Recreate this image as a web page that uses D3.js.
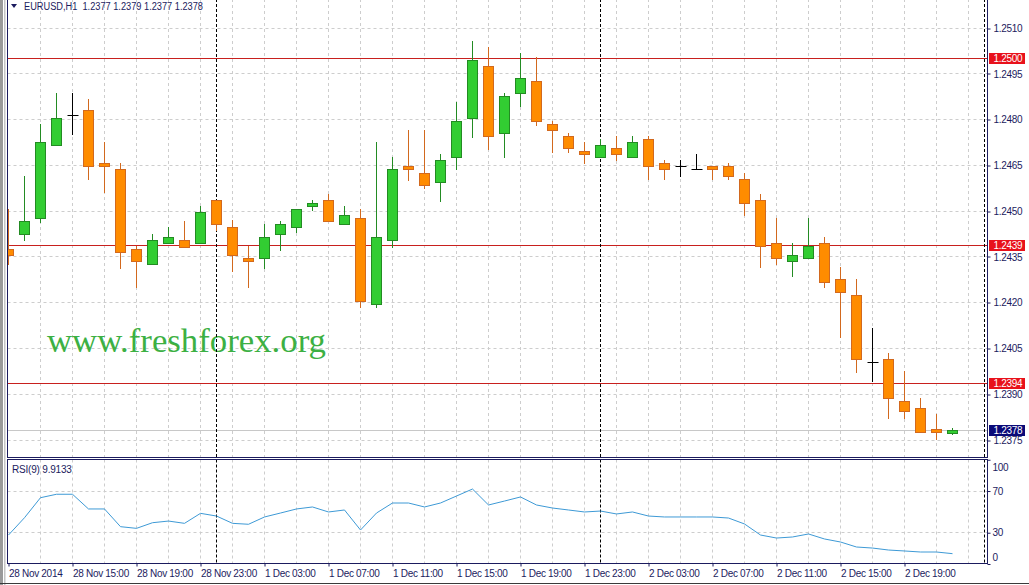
<!DOCTYPE html>
<html><head><meta charset="utf-8">
<script src="https://cdn.jsdelivr.net/npm/d3@7"></script>
<style>body{margin:0;background:#fff;overflow:hidden} svg{display:block}</style>
</head><body>
<svg id="c" width="1029" height="585"></svg>
<script>
// ---------------- data ----------------
const titleText = "EURUSD,H1  1.2377 1.2379 1.2377 1.2378";
const openP  = [1.24375,1.24424,1.24477,1.24716,1.24813,1.24829,1.24658,1.24638,1.24375,1.24326,
                1.24395,1.24405,1.24395,1.24536,1.24447,1.24346,1.24344,1.24424,1.24447,1.24516,
                1.24536,1.24457,1.24477,1.24195,1.24403,1.24647,1.24624,1.24595,1.24677,1.24805,
                1.24975,1.24756,1.24887,1.24926,1.24785,1.24746,1.24697,1.24677,1.24706,1.24677,
                1.24736,1.24657,1.24647,1.24638,1.24647,1.24647,1.24605,1.24536,1.24395,1.24336,
                1.24346,1.24395,1.24277,1.24224,1.24005,1.24015,1.23875,1.23854,1.23785,1.2377];
const highP  = [1.24506,1.24616,1.24786,1.24887,1.24887,1.24868,1.24728,1.24657,1.24386,1.24424,
                1.24449,1.24468,1.24517,1.24536,1.24470,1.24386,1.24458,1.24468,1.24506,1.24537,
                1.24557,1.24517,1.24506,1.24726,1.24678,1.24766,1.24766,1.24687,1.24858,1.25057,
                1.25039,1.24887,1.25019,1.25005,1.24795,1.24756,1.24726,1.24736,1.24747,1.24747,
                1.24747,1.24667,1.24667,1.24687,1.24647,1.24657,1.24624,1.24556,1.24477,1.24395,
                1.24477,1.24415,1.24316,1.24277,1.24117,1.24034,1.23977,1.23887,1.23836,1.2379];
const lowP   = [1.24327,1.24405,1.24466,1.24716,1.24754,1.24605,1.24564,1.24315,1.24253,1.24326,
                1.24395,1.24382,1.24395,1.24439,1.24305,1.24253,1.24315,1.24373,1.24432,1.24504,
                1.24467,1.24457,1.24185,1.24185,1.24384,1.24603,1.24575,1.24535,1.24638,1.24744,
                1.24705,1.24677,1.24845,1.24784,1.24695,1.24695,1.24657,1.24677,1.24667,1.24677,
                1.24605,1.24605,1.24615,1.24638,1.24605,1.24605,1.24487,1.24316,1.24326,1.24287,
                1.24346,1.24253,1.24087,1.23974,1.23944,1.23823,1.23821,1.23775,1.23754,1.2377];
const closeP = [1.24356,1.24467,1.24726,1.24805,1.24813,1.24646,1.24646,1.24365,1.24336,1.24405,
                1.24415,1.24382,1.24497,1.24457,1.24356,1.24336,1.24415,1.24457,1.24506,1.24526,
                1.24467,1.24487,1.24205,1.24415,1.24638,1.24638,1.24585,1.24667,1.24795,1.24995,
                1.24744,1.24877,1.24936,1.24795,1.24765,1.24706,1.24687,1.24716,1.24687,1.24726,
                1.24647,1.24638,1.24647,1.24638,1.24638,1.24615,1.24526,1.24384,1.24346,1.24356,
                1.24385,1.24267,1.24234,1.24015,1.24005,1.23885,1.23844,1.23775,1.23775,1.2378];
const rsiValues = [27.8,44.4,63.6,66.9,66.9,52.8,52.8,35.8,34.2,39.6,
                   41.2,39.0,48.6,46.0,39.0,38.1,45.1,48.9,52.8,54.7,
                   49.9,51.8,32.6,48.9,58.5,58.5,54.7,58.5,65.2,71.9,
                   56.6,60.4,64.3,56.6,53.7,51.8,49.9,50.8,48.0,49.9,
                   46.0,45.1,45.1,45.1,45.1,44.1,38.4,27.8,24.9,25.9,
                   28.8,24.0,21.1,16.3,15.3,13.4,12.5,11.5,11.5,9.9133];
const rsiLabel = "RSI(9) 9.9133";
const priceTicks = [1.2510,1.2495,1.2480,1.2465,1.2450,1.2435,1.2420,1.2405,1.2390,1.2375];
const rsiTicks = [100,70,30,0];
const rsiGridLevels = [70,30];
const timeLabelBars = [0,4,8,12,16,20,24,28,32,36,40,44,48,52,56];
const timeLabels = ["28 Nov 2014","28 Nov 15:00","28 Nov 19:00","28 Nov 23:00","1 Dec 03:00",
                    "1 Dec 07:00","1 Dec 11:00","1 Dec 15:00","1 Dec 19:00","1 Dec 23:00",
                    "2 Dec 03:00","2 Dec 07:00","2 Dec 11:00","2 Dec 15:00","2 Dec 19:00"];
const separatorBars = [13,37,61];
const hLineValues = [1.2500,1.24388,1.23936];
const hLineLabels = ["1.2500","1.2439","1.2394"];
const bidValue = 1.2378;
const watermark = "www.freshforex.org";

// ---------------- layout ----------------
const svg = d3.select("#c");
const L = 7.5, R = 987.5, mainTop = -1, mainBot = 457.5, rsiTop = 459.5, rsiBot = 563.5;
const navy = "#1b1b5e";
const crisp = v => Math.round(v - 0.5) + 0.5;

const x = d3.scaleLinear().domain([0, 1]).range([8.5, 24.5]);
const y = d3.scaleLinear().domain([1.2375, 1.2510]).range([440, 28.25]);
const yR = d3.scaleLinear().domain([0, 100]).range([564, 459.75]);

// window chrome
svg.append("rect").attr("x",0).attr("y",0).attr("width",3).attr("height",585).attr("fill","#9a9a9a");
svg.append("rect").attr("x",4).attr("y",0).attr("width",1.5).attr("height",585).attr("fill","#c4c4c4");
svg.append("line").attr("x1",0).attr("x2",1029).attr("y1",583.5).attr("y2",583.5).attr("stroke","#3a3a3a");

const defs = svg.append("defs");
defs.append("clipPath").attr("id","cm").append("rect").attr("x",8).attr("y",0).attr("width",979).attr("height",457);
defs.append("clipPath").attr("id","cr").append("rect").attr("x",8).attr("y",460).attr("width",979).attr("height",103);

const gMain = svg.append("g").attr("clip-path","url(#cm)");
const gRsi = svg.append("g").attr("clip-path","url(#cr)");

const gridColor = "#cdcdcd";
const gridBars = d3.range(2, 62, 2);
// vertical grid
[gMain, gRsi].forEach((g, i) => {
  g.selectAll("line.vg").data(gridBars).join("line").attr("class","vg")
    .attr("x1", d => crisp(x(d))).attr("x2", d => crisp(x(d)))
    .attr("y1", i ? rsiTop : mainTop).attr("y2", i ? rsiBot : mainBot)
    .attr("stroke", gridColor).attr("stroke-dasharray","3,3");
});
// horizontal grid main
gMain.selectAll("line.hg").data(priceTicks).join("line").attr("class","hg")
  .attr("x1", L).attr("x2", R).attr("y1", d => crisp(y(d))).attr("y2", d => crisp(y(d)))
  .attr("stroke", gridColor).attr("stroke-dasharray","3,3");
gRsi.selectAll("line.hg").data(rsiGridLevels).join("line").attr("class","hg")
  .attr("x1", L).attr("x2", R).attr("y1", d => crisp(yR(d))).attr("y2", d => crisp(yR(d)))
  .attr("stroke", gridColor).attr("stroke-dasharray","3,3");

// watermark
gMain.append("text").attr("x",47).attr("y",352).text(watermark)
  .attr("font-family","'Liberation Serif','DejaVu Serif',serif").attr("font-size",34)
  .attr("textLength",279).attr("lengthAdjust","spacingAndGlyphs")
  .attr("fill","#3cb043");

// bid line
gMain.append("line").attr("x1",L).attr("x2",R).attr("y1",crisp(y(bidValue))).attr("y2",crisp(y(bidValue)))
  .attr("stroke","#c8c8c8");

// horizontal lines
gMain.selectAll("line.hl").data(hLineValues).join("line").attr("class","hl")
  .attr("x1",L).attr("x2",R).attr("y1",d=>crisp(y(d))).attr("y2",d=>crisp(y(d)))
  .attr("stroke","#c8201e");

// separators
[gMain, gRsi].forEach((g, i) => {
  g.selectAll("line.sep").data(separatorBars).join("line").attr("class","sep")
    .attr("x1", d => crisp(x(d))).attr("x2", d => crisp(x(d)))
    .attr("y1", i ? rsiTop : mainTop).attr("y2", i ? rsiBot : mainBot)
    .attr("stroke", "#000").attr("stroke-dasharray","3,2");
});

// candles
const bars = openP.map((o, i) => ({i, o, h: highP[i], l: lowP[i], c: closeP[i]}));
const colorOf = d => d.c > d.o ? {f:"#32cd32", s:"#238b23"} : d.c < d.o ? {f:"#ff8c00", s:"#d2691e"} : {f:"#000", s:"#000"};
gMain.selectAll("line.wick").data(bars).join("line").attr("class","wick")
  .attr("x1", d => crisp(x(d.i))).attr("x2", d => crisp(x(d.i)))
  .attr("y1", d => Math.round(y(d.h))).attr("y2", d => Math.round(y(d.l)) + 1)
  .attr("stroke", d => colorOf(d).s);
gMain.selectAll("rect.body").data(bars.filter(d => d.o !== d.c)).join("rect").attr("class","body")
  .attr("x", d => crisp(x(d.i)) - 5)
  .attr("y", d => crisp(y(Math.max(d.o, d.c))))
  .attr("width", 10)
  .attr("height", d => Math.max(1, crisp(y(Math.min(d.o, d.c))) - crisp(y(Math.max(d.o, d.c)))))
  .attr("fill", d => colorOf(d).f).attr("stroke", d => colorOf(d).s);
gMain.selectAll("line.doji").data(bars.filter(d => d.o === d.c)).join("line").attr("class","doji")
  .attr("x1", d => crisp(x(d.i)) - 5).attr("x2", d => crisp(x(d.i)) + 6)
  .attr("y1", d => crisp(y(d.o))).attr("y2", d => crisp(y(d.o)))
  .attr("stroke", "#000");

// RSI line
gRsi.append("path").datum(rsiValues)
  .attr("d", d3.line().x((d, i) => x(i)).y(d => yR(d)))
  .attr("fill","none").attr("stroke","#3e9ad6").attr("stroke-width",1);

// frames
svg.append("rect").attr("x",L).attr("y",mainTop).attr("width",R-L).attr("height",mainBot-mainTop)
  .attr("fill","none").attr("stroke",navy);
svg.append("rect").attr("x",L).attr("y",rsiTop).attr("width",R-L).attr("height",rsiBot-rsiTop)
  .attr("fill","none").attr("stroke",navy);

// price axis
const fontAx = "'Liberation Sans',Arial,sans-serif";
const pAxis = svg.append("g").attr("transform",`translate(${R},0)`)
  .call(d3.axisRight(y).tickValues(priceTicks).tickFormat(d3.format(".4f")).tickSize(3).tickSizeOuter(0));
pAxis.select(".domain").remove();
pAxis.selectAll(".tick line").attr("stroke",navy).attr("transform",d=>`translate(0,${crisp(y(d))-y(d)})`);
pAxis.selectAll(".tick text").attr("x",6).attr("fill",navy).attr("font-family",fontAx)
  .attr("font-size",10).attr("letter-spacing","-0.3px");

// RSI axis
const rAxis = svg.append("g").attr("transform",`translate(${R},0)`)
  .call(d3.axisRight(yR).tickValues(rsiTicks).tickFormat(d3.format("d")).tickSize(3).tickSizeOuter(0));
rAxis.select(".domain").remove();
rAxis.selectAll(".tick line").attr("stroke",navy);
rAxis.selectAll(".tick text").attr("x",5).attr("fill",navy).attr("font-family",fontAx)
  .attr("font-size",10).attr("letter-spacing","-0.3px")
  .attr("dy", d => d === 100 ? "1.05em" : d === 0 ? "-0.35em" : "0.32em");

// hline labels
const hlG = svg.selectAll("g.hll").data(hLineValues).join("g").attr("class","hll")
  .attr("transform", d => `translate(${R+1.5},${crisp(y(d))})`);
hlG.append("rect").attr("x",0).attr("y",-5.5).attr("width",36).attr("height",11).attr("fill","#e8111b");
hlG.append("text").attr("x",4.5).attr("y",0).attr("dy","0.35em").text((d,i)=>hLineLabels[i])
  .attr("fill","#fff").attr("font-family",fontAx).attr("font-size",10).attr("letter-spacing","-0.3px");
// bid label
const bg = svg.append("g").attr("transform",`translate(${R+1.5},${crisp(y(bidValue))})`);
bg.append("rect").attr("x",0).attr("y",-5.5).attr("width",36).attr("height",11).attr("fill","#0a0a78");
bg.append("text").attr("x",4.5).attr("dy","0.35em").text(d3.format(".4f")(bidValue))
  .attr("fill","#fff").attr("font-family",fontAx).attr("font-size",10).attr("letter-spacing","-0.3px");

// time axis
const tAxis = svg.append("g").attr("transform",`translate(0,${rsiBot})`)
  .call(d3.axisBottom(x).tickValues(timeLabelBars).tickFormat((d,i)=>timeLabels[i]).tickSize(3).tickSizeOuter(0));
tAxis.select(".domain").remove();
tAxis.selectAll(".tick line").attr("stroke",navy);
tAxis.selectAll(".tick text").attr("text-anchor","start").attr("x",0).attr("y",6).attr("dy","0.71em")
  .attr("fill",navy).attr("font-family",fontAx).attr("font-size",10).attr("letter-spacing","-0.3px");

// title
svg.append("path").attr("d","M11,4 L17,4 L14,8 Z").attr("fill",navy);
svg.append("text").attr("x",24).attr("y",10).text(titleText).attr("xml:space","preserve")
  .style("white-space","pre")
  .attr("fill",navy).attr("font-family",fontAx).attr("font-size",10)
  .attr("textLength",179).attr("lengthAdjust","spacingAndGlyphs");
// RSI label
svg.append("text").attr("x",12).attr("y",473).text(rsiLabel)
  .attr("fill",navy).attr("font-family",fontAx).attr("font-size",10).attr("letter-spacing","-0.2px");
</script>
</body></html>
